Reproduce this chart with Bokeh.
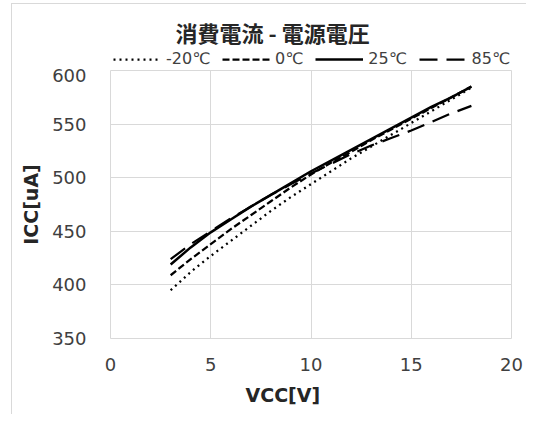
from bokeh.plotting import figure
from bokeh.models import Legend, LegendItem, Range1d, FixedTicker, Title, Label
from bokeh.layouts import column
from bokeh.embed import file_html
from bokeh.resources import INLINE

# ---- data ----
vcc = [3, 4, 5, 6, 7, 8, 9, 10, 11, 12, 13, 14, 15, 16, 17, 18]
icc_m20 = [395, 412, 427, 441, 455, 469, 482, 494, 506, 518, 529, 540, 551, 562, 573, 584]
icc_0 = [409, 424, 438, 452, 465, 478, 491, 503, 514, 524, 535, 545, 555, 565, 575, 585]
icc_25 = [419, 435, 449, 461, 473, 484, 495, 506, 516, 526, 536, 546, 556, 566, 575, 585]
icc_85 = [424, 438, 450, 462, 473, 484, 494, 504, 513, 522, 530, 537, 544, 552, 560, 567]
series_labels = ["-20℃", "0℃", "25℃", "85℃"]
x_ticks = [0, 5, 10, 15, 20]
y_ticks = [350, 400, 450, 500, 550, 600]
title_text = "消費電流 - 電源電圧"
x_title = "VCC[V]"
y_title = "ICC[uA]"

LAT = "DejaVu Sans"
CJK = "Noto Sans CJK JP"
W = 526
TOP_H = 68
GRID = "#d9d9d9"
styles_line = [dict(line_width=2.25, line_dash="2 4"),
               dict(line_width=2.25, line_dash="7 3"),
               dict(line_width=2.5, line_dash="solid"),
               dict(line_width=2.25, line_dash="18 9")]

# ---- header figure: title + legend ----
top = figure(width=W, height=TOP_H, output_backend="svg", toolbar_location=None,
             x_axis_type=None, y_axis_type=None, x_range=Range1d(0, 1), y_range=Range1d(0, 1),
             min_border_left=110, min_border_right=15, min_border_top=0, min_border_bottom=0)
top.outline_line_color = None
top.border_fill_alpha = 0
top.background_fill_alpha = 0
top.add_layout(Label(x=65, y=TOP_H - 31, x_units="screen", y_units="screen", text=title_text,
                     text_font=CJK, text_font_size="22px", text_font_style="bold",
                     text_color="#262626", text_align="left", text_baseline="middle"))
nan = float("nan")
dummies = [top.line([nan, nan], [nan, nan], line_color="black", **s) for s in styles_line]
legend = Legend(items=[LegendItem(label=series_labels[i], renderers=[r])
                       for i, r in enumerate(dummies)],
                orientation="horizontal", location=(3, 0),
                padding=0, margin=0, spacing=12, label_standoff=5,
                glyph_width=48, glyph_height=12, label_height=12,
                label_text_font=LAT, label_text_font_size="16px",
                label_text_color="#404040",
                background_fill_alpha=0, border_line_color=None)
top.add_layout(legend, "center")

# ---- main figure ----
p = figure(width=W, height=346, output_backend="svg", toolbar_location=None,
           x_range=Range1d(0, 20), y_range=Range1d(350, 600),
           min_border_left=110, min_border_right=15, min_border_top=2, min_border_bottom=74)
p.border_fill_alpha = 0
p.background_fill_color = "white"

p.outline_line_color = GRID
p.outline_line_width = 1
p.grid.grid_line_color = GRID
p.grid.grid_line_width = 1
p.xaxis.ticker = FixedTicker(ticks=x_ticks)
p.yaxis.ticker = FixedTicker(ticks=y_ticks)
for ax in (p.xaxis[0], p.yaxis[0]):
    ax.axis_line_color = None
    ax.major_tick_line_color = None
    ax.minor_tick_line_color = None
    ax.major_label_text_font = LAT
    ax.major_label_text_font_size = "18px"
    ax.major_label_text_color = "#404040"
    ax.axis_label_text_font = LAT
    ax.axis_label_text_font_size = "19px"
    ax.axis_label_text_font_style = "bold"
    ax.axis_label_text_color = "#262626"
p.yaxis.axis_label = y_title
p.xaxis.major_label_standoff = 13
p.yaxis.major_label_standoff = 18
p.yaxis.axis_label_standoff = 7

xt = Title(text=x_title, align="left", offset=135, text_font=LAT,
           text_font_size="19px", text_font_style="bold", text_color="#262626",
           standoff=17)
p.add_layout(xt, "below")

for ys, s in zip([icc_m20, icc_0, icc_25, icc_85], styles_line):
    p.line(vcc, ys, line_color="black", **s)

layout = column(top, p, spacing=0)
layout.styles = {"background": "linear-gradient(#d9d9d9,#d9d9d9) 11px 3px / 1px 420px no-repeat, "
                               "linear-gradient(#d9d9d9,#d9d9d9) 11px 3px / 530px 1px no-repeat, white"}
open("out.html", "w").write(file_html(layout, INLINE))
